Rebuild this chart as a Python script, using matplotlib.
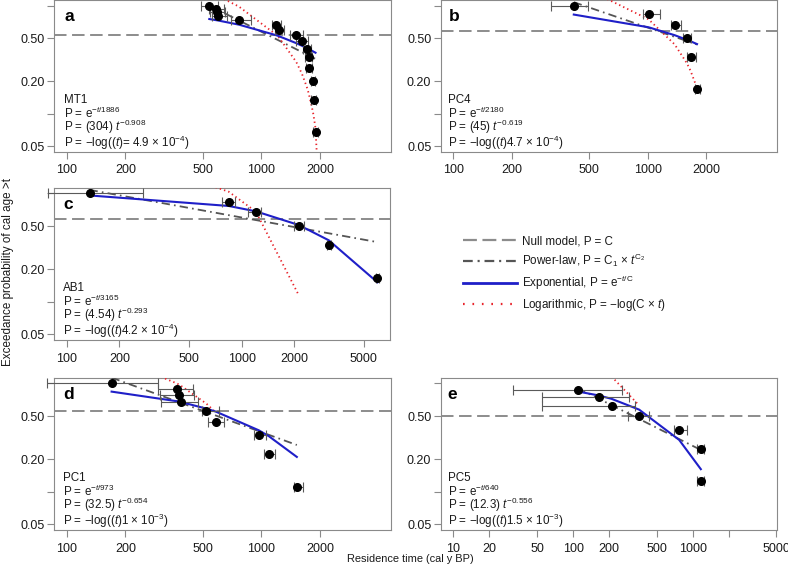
import numpy as np
import matplotlib
matplotlib.use("Agg")
import matplotlib.pyplot as plt
from matplotlib.lines import Line2D
from matplotlib.ticker import FixedLocator, FixedFormatter, NullLocator

plt.rcParams['font.family'] = ['Liberation Sans', 'DejaVu Sans']
plt.rcParams['mathtext.fontset'] = 'custom'
plt.rcParams['mathtext.rm'] = 'Liberation Sans'
plt.rcParams['mathtext.it'] = 'Liberation Sans:italic'
plt.rcParams['mathtext.bf'] = 'Liberation Sans:bold'
plt.rcParams['lines.scale_dashes'] = False

# ---------------- data ----------------
# Panel a : MT1
a_t = [540, 588, 592, 601, 767, 1194, 1236, 1510, 1615, 1710, 1750, 1755, 1837, 1855, 1897]
a_p = [1.0, 0.933, 0.867, 0.8, 0.733, 0.667, 0.6, 0.533, 0.467, 0.4, 0.333, 0.267, 0.2, 0.133, 0.067]
a_tlo = [492, 540, 545, 555, 695, 1130, 1170, 1406, 1500, 1640, 1680, 1690, 1790, 1800, 1850]
a_thi = [600, 640, 650, 665, 880, 1260, 1300, 1644, 1730, 1790, 1820, 1825, 1890, 1910, 1950]
a_null = 0.533
a_exp = [0.751, 0.732, 0.731, 0.727, 0.666, 0.531, 0.519, 0.449, 0.425, 0.404, 0.395, 0.394, 0.378, 0.374, 0.366]
a_pow_t = [540, 1897]
a_pow_p = [1.0, 0.321]
a_log_t = [540, 588, 601, 767, 1194, 1236, 1510, 1615, 1710, 1750, 1837, 1855, 1897, 1924]
a_log_p = [1.33, 1.245, 1.223, 0.979, 0.536, 0.501, 0.301, 0.234, 0.177, 0.154, 0.105, 0.0955, 0.073, 0.044]
a_text = ["MT1", r"P = e$^{-\mathit{t}/1886}$", r"P = (304) $\mathit{t}^{-0.908}$",
          r"P = −log(($\mathit{t}$)= 4.9 × 10$^{-4}$)"]

# Panel b : PC4
b_t = [416, 1008, 1374, 1589, 1660, 1791]
b_p = [1.0, 0.833, 0.667, 0.5, 0.333, 0.167]
b_tlo = [318, 942, 1321, 1514, 1590, 1740]
b_thi = [494, 1159, 1486, 1675, 1760, 1850]
b_null = 0.58
b_exp = [0.826, 0.630, 0.532, 0.482, 0.467, 0.440]
b_pow_t = [416, 1791]
b_pow_p = [1.076, 0.436]
b_log_t = [416, 1008, 1374, 1589, 1660, 1791]
b_log_p = [1.632, 0.747, 0.437, 0.292, 0.248, 0.172]
b_text = ["PC4", r"P = e$^{-\mathit{t}/2180}$", r"P = (45) $\mathit{t}^{-0.619}$",
          r"P = −log(($\mathit{t}$)4.7 × 10$^{-4}$)"]

# Panel c : AB1
c_t = [135, 844, 1208, 2123, 3155, 5988]
c_p = [1.0, 0.833, 0.667, 0.5, 0.333, 0.167]
c_tlo = [78, 769, 1091, 2000, 3080, 5850]
c_thi = [272, 918, 1284, 2270, 3230, 6130]
c_null = 0.577
c_exp = [0.958, 0.766, 0.683, 0.511, 0.369, 0.151]
c_pow_t = [135, 5988]
c_pow_p = [1.078, 0.355]
c_log_t = [135, 844, 1208, 2123]
c_log_p = [2.87, 1.037, 0.678, 0.115]
c_text = ["AB1", r"P = e$^{-\mathit{t}/3165}$", r"P = (4.54) $\mathit{t}^{-0.293}$",
          r"P = −log(($\mathit{t}$)4.2 × 10$^{-4}$)"]

# Panel d : PC1
d_t = [170, 368, 376, 386, 522, 585, 970, 1091, 1521]
d_p = [1.0, 0.889, 0.778, 0.667, 0.556, 0.444, 0.333, 0.222, 0.111]
d_tlo = [79, 294, 301, 305, 493, 533, 914, 1028, 1473]
d_thi = [294, 443, 452, 470, 607, 643, 1060, 1178, 1633]
d_null = 0.556
d_exp = [0.840, 0.685, 0.680, 0.673, 0.585, 0.548, 0.369, 0.326, 0.2095]
d_pow_t = [170, 1521]
d_pow_p = [1.13, 0.27]
d_log_t = [170, 368, 376, 386, 522, 585]
d_log_p = [1.77, 1.0, 0.978, 0.952, 0.650, 0.536]
d_text = ["PC1", r"P = e$^{-\mathit{t}/973}$", r"P = (32.5) $\mathit{t}^{-0.654}$",
          r"P = −log(($\mathit{t}$)1 × 10$^{-3}$)"]

# Panel e : PC5
e_t = [109, 163, 210, 356, 769, 1167, 1167]
e_p = [0.875, 0.75, 0.625, 0.5, 0.375, 0.25, 0.125]
e_tlo = [31.7, 54.7, 54.7, 285, 698, 1081, 1081]
e_thi = [255, 295, 330, 431, 902, 1250, 1250]
e_null = 0.50
e_exp = [0.843, 0.775, 0.720, 0.573, 0.301, 0.1615, 0.1615]
e_pow_t = [109, 1167]
e_pow_p = [0.906, 0.243]
e_log_t = [109, 163, 210, 356]
e_log_p = [1.811, 1.408, 1.155, 0.627]
e_text = ["PC5", r"P = e$^{-\mathit{t}/640}$", r"P = (12.3) $\mathit{t}^{-0.556}$",
          r"P = −log(($\mathit{t}$)1.5 × 10$^{-3}$)"]

y_ticks = [0.05, 0.1, 0.2, 0.5, 1.0]
y_ticklabels = ["0.05", "", "0.20", "0.50", ""]
x_ticks_std = [100, 200, 500, 1000, 2000]
x_ticks_c = [100, 200, 500, 1000, 2000, 5000]
x_ticks_e = [10, 20, 50, 100, 200, 500, 1000, 2000, 5000]
x_ticklabels_e = ["10", "20", "50", "100", "200", "500", "1000", "", "5000"]

legend_labels = ["Null model, P = C",
                 r"Power-law, P = C$_1$ × $\mathit{t}^{\mathrm{C}_2}$",
                 r"Exponential, P = e$^{-\mathit{t}/\mathrm{C}}$",
                 r"Logarithmic, P = −log(C × $\mathit{t}$)"]

# ---------------- styles ----------------
NULL_C = '#8c8c8c'
POW_C = '#555555'
EXP_C = '#1f1fc8'
LOG_C = '#e8242b'
SPINE_C = '#8a8a8a'
TXT_C = '#1a1a1a'
FS = 8.4
TICK_FS = 9

W, H = 788, 571
fig = plt.figure(figsize=(W / 100, H / 100), dpi=100)


def ax_rect(left, top, right, bottom):
    return [left / W, 1 - bottom / H, (right - left) / W, (bottom - top) / H]


def panel(rect, letter, t, p, tlo, thi, null, expv, pow_t, pow_p, log_t, log_p,
          text, xlim, xticks, xticklabels, text_x):
    ax = fig.add_axes(rect)
    ax.set_xscale('log')
    ax.set_yscale('log')
    ax.set_xlim(*xlim)
    ax.set_ylim(0.0443, 1.127)
    t = np.array(t, float)
    xerr = [t - np.array(tlo), np.array(thi) - t]
    ax.axhline(null, color=NULL_C, lw=1.4, dashes=(9, 4), zorder=2)
    ax.plot(pow_t, pow_p, color=POW_C, lw=1.3, dashes=(6, 3, 1.2, 3), zorder=3)
    ax.plot(log_t, log_p, color=LOG_C, lw=1.3, dashes=(1.0, 2.2), zorder=3)
    ax.plot(t, expv, color=EXP_C, lw=1.5, zorder=4)
    eb = ax.errorbar(t, p, xerr=xerr, fmt='none', ecolor='#5a5a5a', elinewidth=0.8,
                     capsize=3.3, capthick=0.8, zorder=5)
    for art in eb.get_children():
        art.set_clip_on(False)
    ax.plot(t, p, 'o', color='black', ms=5.5, zorder=6)
    ax.xaxis.set_major_locator(FixedLocator(xticks))
    ax.xaxis.set_major_formatter(FixedFormatter(xticklabels))
    ax.xaxis.set_minor_locator(NullLocator())
    ax.yaxis.set_major_locator(FixedLocator(y_ticks))
    ax.yaxis.set_major_formatter(FixedFormatter(y_ticklabels))
    ax.yaxis.set_minor_locator(NullLocator())
    ax.tick_params(axis='both', direction='out', length=5, width=0.8, color=SPINE_C,
                   labelsize=TICK_FS, labelcolor=TXT_C)
    ax.tick_params(axis='x', pad=4)
    ax.tick_params(axis='y', pad=2)
    for s in ax.spines.values():
        s.set_color(SPINE_C)
        s.set_linewidth(0.8)
    ax.text(text_x, 0.89, letter, transform=ax.transAxes, fontsize=12.5,
            fontweight='bold', va='center', ha='left', color='black')
    ys = [0.323, 0.225, 0.136, 0.030]
    for s, y in zip(text, ys):
        ax.text(text_x, y, s, transform=ax.transAxes, fontsize=FS, va='baseline',
                ha='left', color=TXT_C)
    return ax


xl_std = (86.3, 4634)
panel(ax_rect(54.3, 0, 391, 151.7), 'a', a_t, a_p, a_tlo, a_thi, a_null, a_exp,
      a_pow_t, a_pow_p, a_log_t, a_log_p, a_text, xl_std, x_ticks_std,
      [str(v) for v in x_ticks_std], 0.029)
panel(ax_rect(441, 0, 777.3, 151.7), 'b', b_t, b_p, b_tlo, b_thi, b_null, b_exp,
      b_pow_t, b_pow_p, b_log_t, b_log_p, b_text, xl_std, x_ticks_std,
      [str(v) for v in x_ticks_std], 0.022)
panel(ax_rect(54.3, 187.8, 390, 340), 'c', c_t, c_p, c_tlo, c_thi, c_null, c_exp,
      c_pow_t, c_pow_p, c_log_t, c_log_p, c_text, (84.9, 7063), x_ticks_c,
      [str(v) for v in x_ticks_c], 0.027)
panel(ax_rect(54.3, 377.8, 391, 530), 'd', d_t, d_p, d_tlo, d_thi, d_null, d_exp,
      d_pow_t, d_pow_p, d_log_t, d_log_p, d_text, xl_std, x_ticks_std,
      [str(v) for v in x_ticks_std], 0.027)
panel(ax_rect(441, 377.8, 777.3, 530), 'e', e_t, e_p, e_tlo, e_thi, e_null, e_exp,
      e_pow_t, e_pow_p, e_log_t, e_log_p, e_text, (7.87, 5083), x_ticks_e,
      x_ticklabels_e, 0.02)

handles = [Line2D([], [], color=NULL_C, lw=1.6, dashes=(10, 4)),
           Line2D([], [], color=POW_C, lw=1.6, dashes=(7, 3.5, 1.5, 3.5)),
           Line2D([], [], color=EXP_C, lw=2.0),
           Line2D([], [], color=LOG_C, lw=1.6, dashes=(1.2, 5.6))]
fig.legend(handles, legend_labels, loc='upper left', bbox_to_anchor=(463 / W, 1 - 235 / H),
           frameon=False, fontsize=FS, handlelength=4.6, handletextpad=0.5,
           labelspacing=0.42, borderpad=0, borderaxespad=0, labelcolor=TXT_C)

fig.text(8 / W, 1 - 272 / H, "Exceedance probability of cal age >t", rotation=90,
         fontsize=FS, ha='center', va='center', color=TXT_C)
fig.text(410.5 / W, 1 - 559 / H, "Residence time (cal y BP)", fontsize=7.9,
         ha='center', va='center', color=TXT_C)

fig.savefig("out.png", dpi=100)
